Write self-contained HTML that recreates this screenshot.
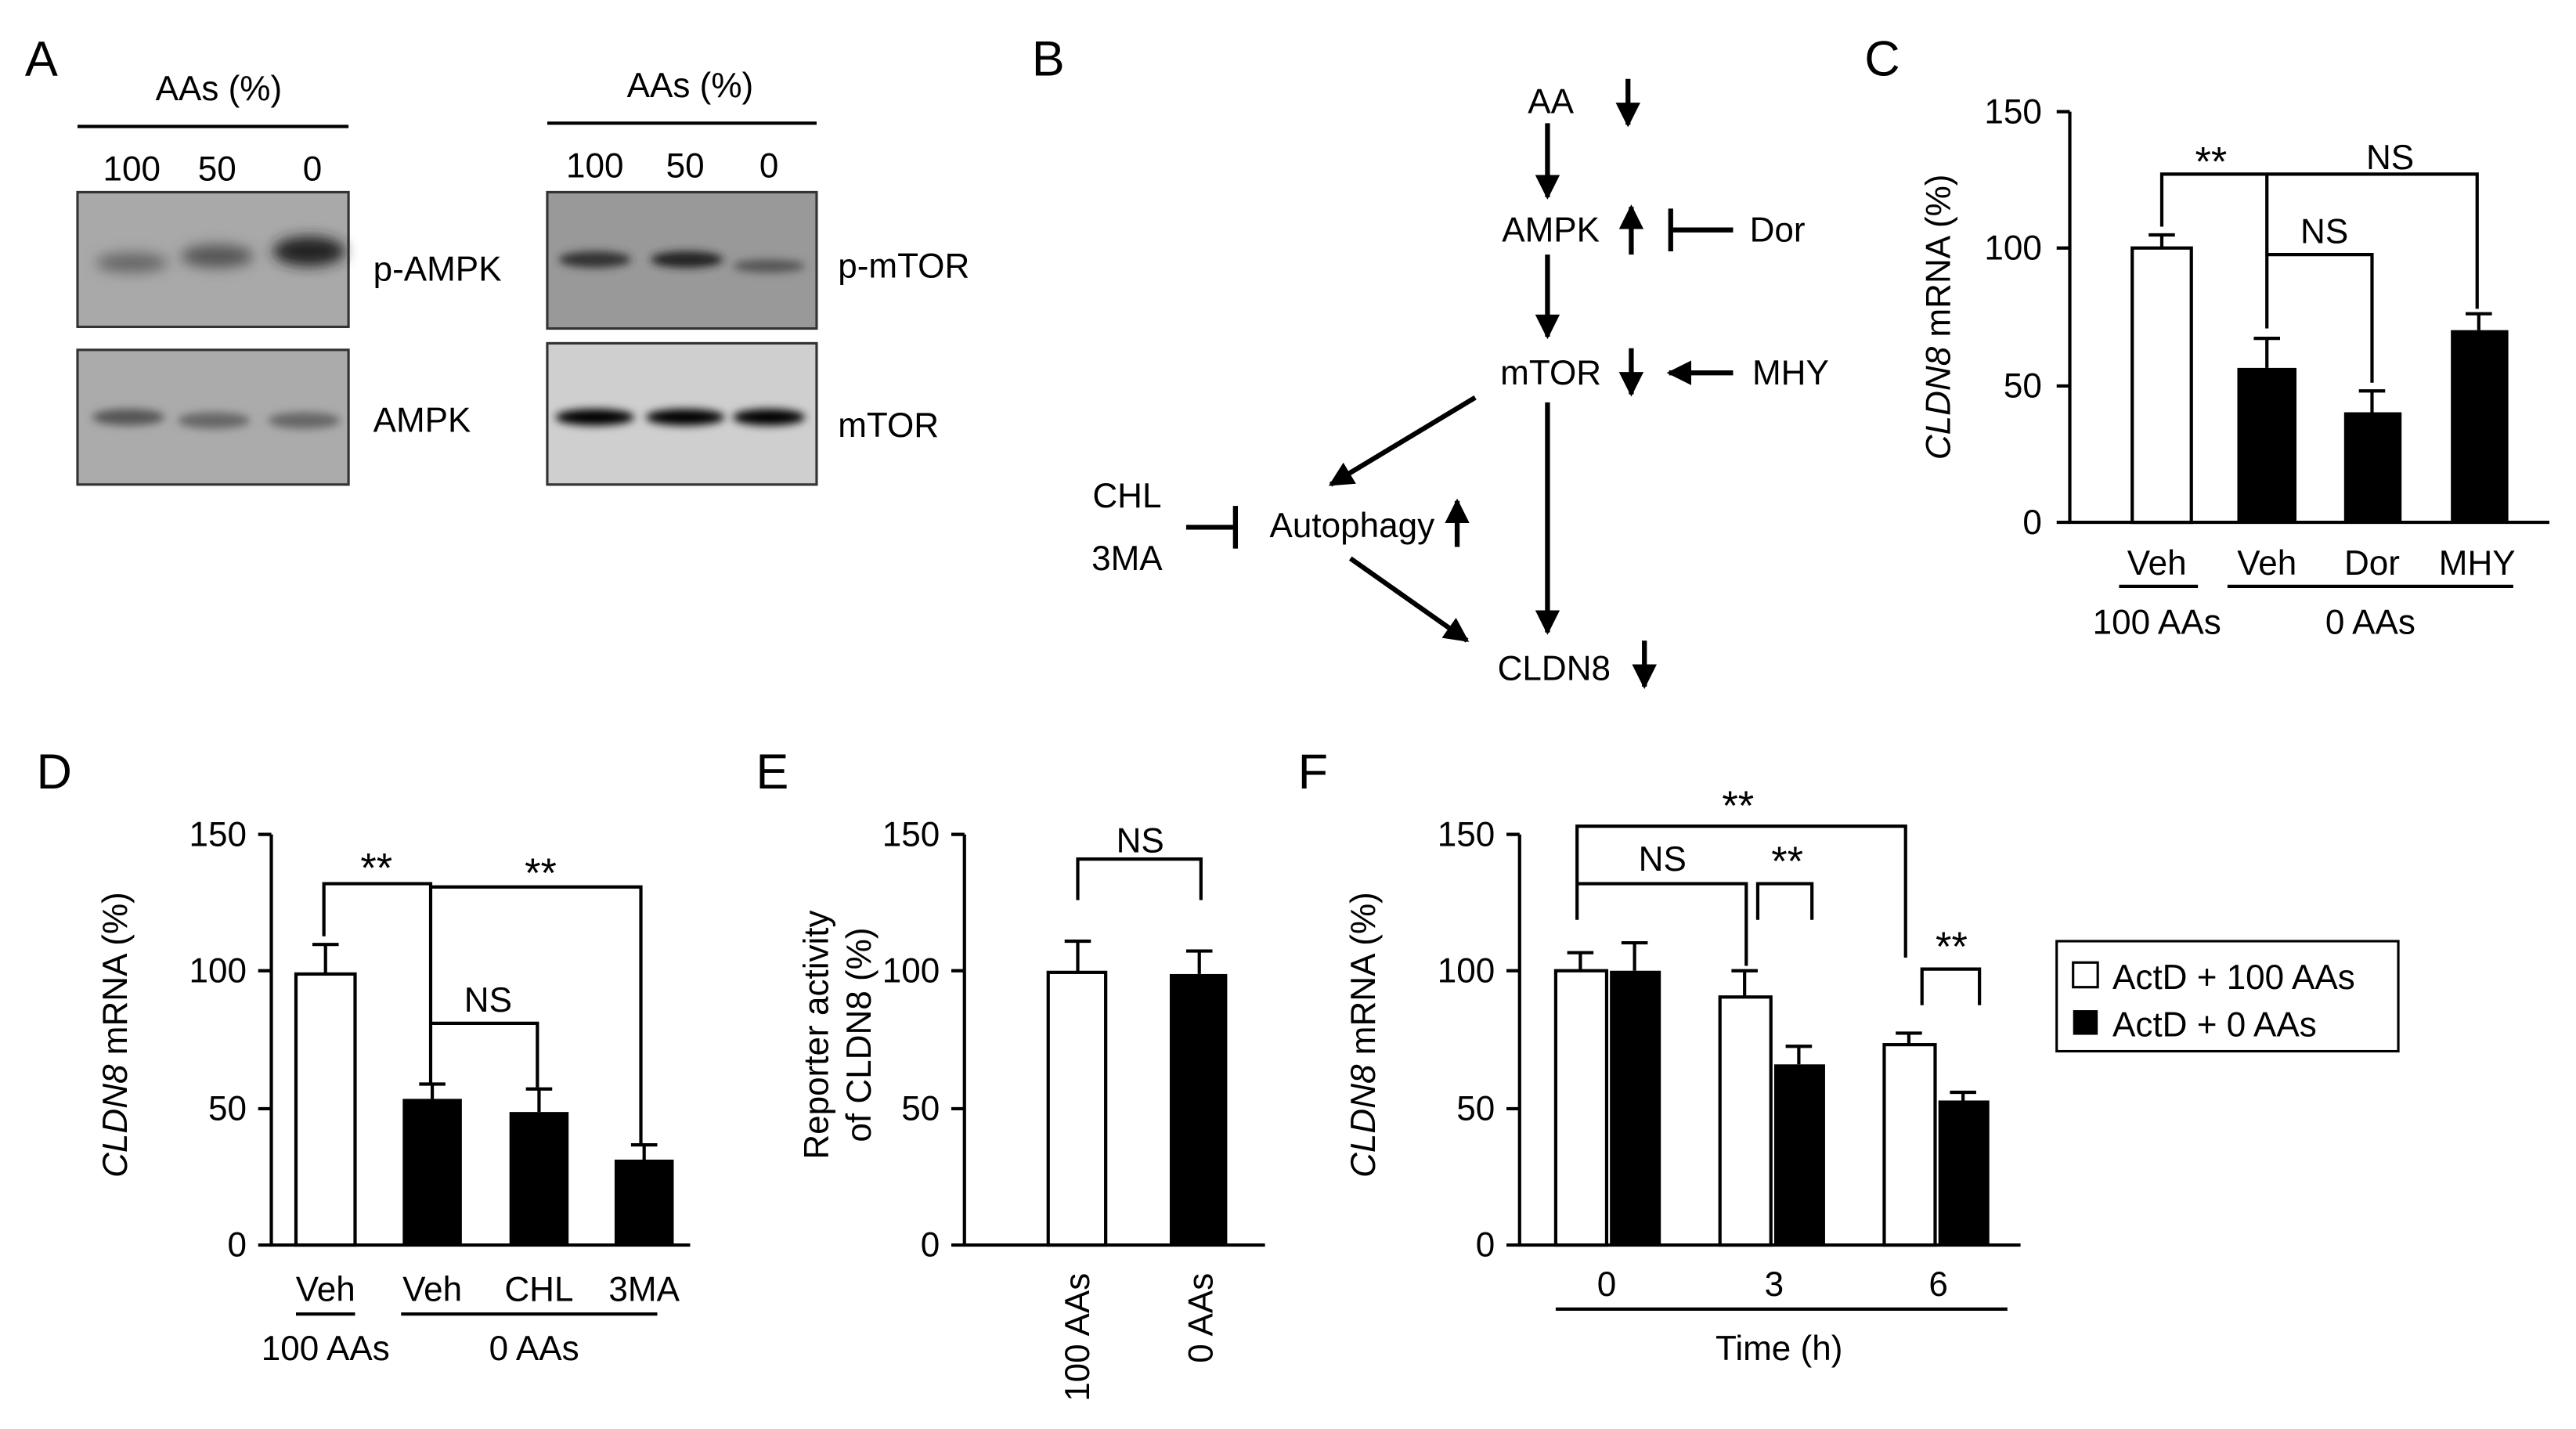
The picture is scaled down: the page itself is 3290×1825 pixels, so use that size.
<!DOCTYPE html>
<html><head><meta charset="utf-8"><style>html,body{margin:0;padding:0;background:#fff}svg{display:block}</style></head>
<body>
<svg width="3290" height="1825" viewBox="0 0 1568 870" xmlns="http://www.w3.org/2000/svg" font-family="Liberation Sans, Arial, sans-serif" font-size="21">
<defs>
<filter id="bl" x="-50%" y="-100%" width="200%" height="300%"><feGaussianBlur stdDeviation="4"/></filter>
<filter id="bl2" x="-50%" y="-100%" width="200%" height="300%"><feGaussianBlur stdDeviation="2.5"/></filter>
<marker id="ah" viewBox="0 0 10 10" refX="9" refY="5" markerWidth="5" markerHeight="5" orient="auto"><path d="M0,0L10,5L0,10z" fill="#000"/></marker>
</defs>
<g fill="#000">
<text x="15" y="46" font-size="30">A</text>
<text x="628" y="46" font-size="30">B</text>
<text x="1135" y="46" font-size="30">C</text>
<text x="22" y="480" font-size="30">D</text>
<text x="460" y="480" font-size="30">E</text>
<text x="790" y="480" font-size="30">F</text>
</g>
<!-- Panel A -->
<g text-anchor="middle">
<text x="133" y="61">AAs (%)</text><line x1="47" y1="77" x2="212" y2="77" stroke="#000" stroke-width="2"/>
<text x="80" y="110">100</text><text x="132" y="110">50</text><text x="190" y="110">0</text>
<text x="420" y="59">AAs (%)</text><line x1="333" y1="75" x2="497" y2="75" stroke="#000" stroke-width="2"/>
<text x="362" y="108">100</text><text x="417" y="108">50</text><text x="468" y="108">0</text>
</g>
<rect x="47" y="117" width="165" height="82" fill="#a9a9a9" stroke="#333" stroke-width="1.5"/>
<ellipse cx="80" cy="160" rx="22" ry="6" fill="#666" filter="url(#bl)"/>
<ellipse cx="132" cy="156" rx="22" ry="7" fill="#555" filter="url(#bl)"/>
<ellipse cx="188" cy="153" rx="22" ry="9" fill="#222" filter="url(#bl)"/>
<rect x="47" y="213" width="165" height="82" fill="#ababab" stroke="#333" stroke-width="1.5"/>
<ellipse cx="78" cy="254" rx="22" ry="5" fill="#555" filter="url(#bl2)"/>
<ellipse cx="130" cy="256" rx="22" ry="5" fill="#666" filter="url(#bl2)"/>
<ellipse cx="185" cy="256" rx="22" ry="5" fill="#666" filter="url(#bl2)"/>
<rect x="333" y="117" width="164" height="83" fill="#999" stroke="#333" stroke-width="1.5"/>
<ellipse cx="362" cy="158" rx="22" ry="5" fill="#333" filter="url(#bl2)"/>
<ellipse cx="418" cy="158" rx="22" ry="5" fill="#222" filter="url(#bl2)"/>
<ellipse cx="468" cy="162" rx="22" ry="4" fill="#555" filter="url(#bl2)"/>
<rect x="333" y="209" width="164" height="86" fill="#cfcfcf" stroke="#333" stroke-width="1.5"/>
<ellipse cx="362" cy="254" rx="24" ry="5" fill="#000" filter="url(#bl2)"/>
<ellipse cx="417" cy="254" rx="24" ry="5" fill="#000" filter="url(#bl2)"/>
<ellipse cx="468" cy="254" rx="22" ry="5" fill="#000" filter="url(#bl2)"/>
<text x="227" y="171">p-AMPK</text><text x="227" y="263">AMPK</text>
<text x="510" y="169">p-mTOR</text><text x="510" y="266">mTOR</text>
<!-- Panel B -->
<g stroke="#000" stroke-width="3" fill="none" marker-end="url(#ah)">
<line x1="991" y1="48" x2="991" y2="76"/>
<line x1="942" y1="75" x2="942" y2="120"/>
<line x1="993" y1="155" x2="993" y2="126"/>
<line x1="942" y1="155" x2="942" y2="205"/>
<line x1="993" y1="212" x2="993" y2="240"/>
<line x1="1055" y1="227" x2="1016" y2="227"/>
<line x1="898" y1="242" x2="810" y2="295"/>
<line x1="887" y1="333" x2="887" y2="305"/>
<line x1="822" y1="340" x2="893" y2="390"/>
<line x1="942" y1="245" x2="942" y2="385"/>
<line x1="1001" y1="390" x2="1001" y2="418"/>
</g>
<g stroke="#000" stroke-width="3">
<line x1="1055" y1="140" x2="1017" y2="140"/><line x1="1017" y1="127" x2="1017" y2="153"/>
<line x1="722" y1="321" x2="752" y2="321"/><line x1="752" y1="308" x2="752" y2="334"/>
</g>
<g text-anchor="middle">
<text x="944" y="69">AA</text><text x="944" y="147">AMPK</text><text x="944" y="234">mTOR</text>
<text x="1082" y="147">Dor</text><text x="1090" y="234">MHY</text>
<text x="823" y="327">Autophagy</text><text x="686" y="309">CHL</text><text x="686" y="347">3MA</text>
<text x="946" y="414">CLDN8</text>
</g>
<!-- Panel C -->
<g stroke="#000" stroke-width="2" fill="none">
<path d="M1260,68V318H1552"/>
<path d="M1252,68H1260M1252,151H1260M1252,235H1260M1252,318H1260"/>
<path d="M1316,143V151M1380,206V224M1444,238V251M1509,191V201" stroke-width="2"/>
<path d="M1308,143H1324M1372,206H1388M1436,238H1452M1501,191H1517"/>
<path d="M1316,138V106H1380V200M1380,106H1508V188M1380,155H1444V233"/>
<path d="M1290,357H1338M1356,357H1530"/>
</g>
<rect x="1298" y="151" width="36" height="167" fill="#fff" stroke="#000" stroke-width="2"/>
<rect x="1362" y="224" width="36" height="94" fill="#000"/>
<rect x="1427" y="251" width="35" height="67" fill="#000"/>
<rect x="1492" y="201" width="35" height="117" fill="#000"/>
<g text-anchor="end"><text x="1243" y="75">150</text><text x="1243" y="158">100</text><text x="1243" y="242">50</text><text x="1243" y="325">0</text></g>
<g text-anchor="middle">
<text x="1346" y="107" font-size="25">**</text><text x="1455" y="103">NS</text><text x="1415" y="148">NS</text>
<text x="1313" y="350">Veh</text><text x="1380" y="350">Veh</text><text x="1444" y="350">Dor</text><text x="1508" y="350">MHY</text>
<text x="1313" y="386">100 AAs</text><text x="1443" y="386">0 AAs</text>
<text transform="translate(1187,193) rotate(-90)"><tspan font-style="italic">CLDN8</tspan> mRNA (%)</text>
</g>
<!-- Panel D -->
<g stroke="#000" stroke-width="2" fill="none">
<path d="M165,508V758H420"/>
<path d="M157,508H165M157,591H165M157,675H165M157,758H165"/>
<path d="M198,575V593M263,660V669M328,663V677M392,697V706"/>
<path d="M190,575H206M255,660H271M320,663H336M384,697H400"/>
<path d="M197,570V538H262V660M262,540H390V697M262,623H327V662"/>
<path d="M180,800H216M244,800H400"/>
</g>
<rect x="180" y="593" width="36" height="165" fill="#fff" stroke="#000" stroke-width="2"/>
<rect x="245" y="669" width="36" height="89" fill="#000"/>
<rect x="310" y="677" width="36" height="81" fill="#000"/>
<rect x="374" y="706" width="36" height="52" fill="#000"/>
<g text-anchor="end"><text x="150" y="515">150</text><text x="150" y="598">100</text><text x="150" y="682">50</text><text x="150" y="765">0</text></g>
<g text-anchor="middle">
<text x="229" y="537" font-size="25">**</text><text x="329" y="540" font-size="25">**</text><text x="297" y="616">NS</text>
<text x="198" y="792">Veh</text><text x="263" y="792">Veh</text><text x="328" y="792">CHL</text><text x="392" y="792">3MA</text>
<text x="198" y="828">100 AAs</text><text x="325" y="828">0 AAs</text>
<text transform="translate(77,630) rotate(-90)"><tspan font-style="italic">CLDN8</tspan> mRNA (%)</text>
</g>
<!-- Panel E -->
<g stroke="#000" stroke-width="2" fill="none">
<path d="M587,508V758H770"/>
<path d="M579,508H587M579,591H587M579,675H587M579,758H587"/>
<path d="M656,573V592M730,579V593M648,573H664M722,579H738"/>
<path d="M656,548V523H731V548"/>
</g>
<rect x="638" y="592" width="35" height="166" fill="#fff" stroke="#000" stroke-width="2"/>
<rect x="712" y="593" width="35" height="165" fill="#000"/>
<g text-anchor="end"><text x="572" y="515">150</text><text x="572" y="598">100</text><text x="572" y="682">50</text><text x="572" y="765">0</text>
<text transform="translate(663,775) rotate(-90)">100 AAs</text><text transform="translate(738,775) rotate(-90)">0 AAs</text></g>
<g text-anchor="middle">
<text x="694" y="519">NS</text>
<text transform="translate(504,630) rotate(-90)">Reporter activity</text>
<text transform="translate(530,630) rotate(-90)">of CLDN8 (%)</text>
</g>
<!-- Panel F -->
<g stroke="#000" stroke-width="2" fill="none">
<path d="M925,508V758H1230"/>
<path d="M917,508H925M917,591H925M917,675H925M917,758H925"/>
<path d="M962,580V591M995,574V591M1062,591V607M1095,637V648M1162,629V636M1195,665V670"/>
<path d="M954,580H970M987,574H1003M1054,591H1070M1087,637H1103M1154,629H1170M1187,665H1203"/>
<path d="M960,560V503H1160V583M960,538H1063V588M1070,560V538H1103V560M1170,612V590H1205V612"/>
<path d="M947,797H1222"/>
</g>
<rect x="947" y="591" width="31" height="167" fill="#fff" stroke="#000" stroke-width="2"/>
<rect x="980" y="591" width="31" height="167" fill="#000"/>
<rect x="1047" y="607" width="31" height="151" fill="#fff" stroke="#000" stroke-width="2"/>
<rect x="1080" y="648" width="31" height="110" fill="#000"/>
<rect x="1147" y="636" width="31" height="122" fill="#fff" stroke="#000" stroke-width="2"/>
<rect x="1180" y="670" width="31" height="88" fill="#000"/>
<g text-anchor="end"><text x="910" y="515">150</text><text x="910" y="598">100</text><text x="910" y="682">50</text><text x="910" y="765">0</text></g>
<g text-anchor="middle">
<text x="1058" y="499" font-size="25">**</text><text x="1012" y="530">NS</text><text x="1088" y="533" font-size="25">**</text><text x="1188" y="585" font-size="25">**</text>
<text x="978" y="789">0</text><text x="1080" y="789">3</text><text x="1180" y="789">6</text>
<text x="1083" y="828">Time (h)</text>
<text transform="translate(837,630) rotate(-90)"><tspan font-style="italic">CLDN8</tspan> mRNA (%)</text>
</g>
<rect x="1252" y="573" width="208" height="67" fill="#fff" stroke="#000" stroke-width="1.5"/>
<rect x="1262" y="586" width="15" height="15" fill="#fff" stroke="#000" stroke-width="1.5"/>
<rect x="1262" y="615" width="15" height="15" fill="#000"/>
<text x="1286" y="602">ActD + 100 AAs</text><text x="1286" y="631">ActD + 0 AAs</text>
</svg>
</body></html>
